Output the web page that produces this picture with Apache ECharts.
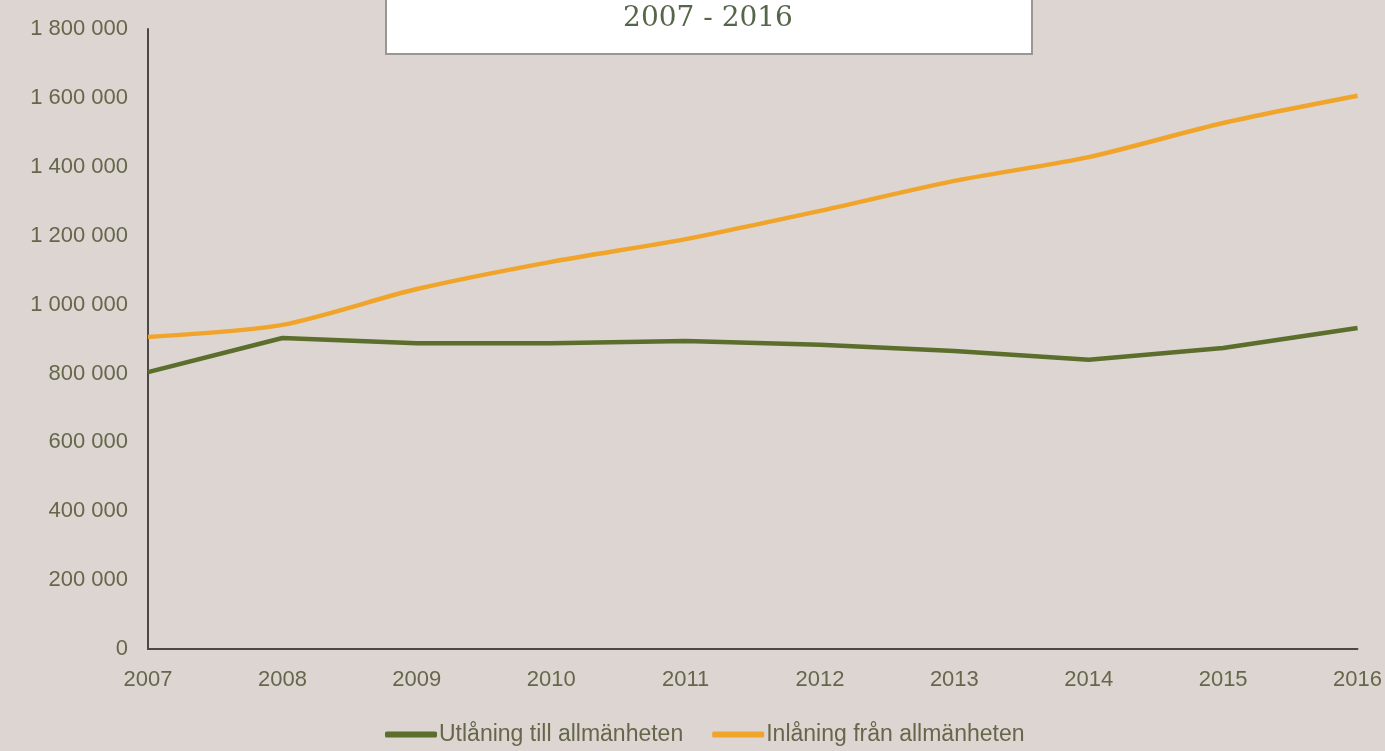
<!DOCTYPE html>
<html>
<head>
<meta charset="utf-8">
<script src="https://cdn.jsdelivr.net/npm/echarts@6/dist/echarts.min.js"></script>
<style>
html,body{margin:0;padding:0;background:#dcd5d2;}
#c{width:1385px;height:751px;}
</style>
</head>
<body>
<div id="c"></div>
<script>
const years = ['2007','2008','2009','2010','2011','2012','2013','2014','2015','2016'];
const utlaning = [804000, 903000, 888000, 888000, 894000, 883000, 865000, 840000, 874000, 932000];
const inlaning = [906000, 941000, 1045000, 1124000, 1190000, 1272000, 1359000, 1428000, 1527000, 1606000];
const seriesNames = ['Utlåning till allmänheten', 'Inlåning från allmänheten'];
const subtitle = '2007 - 2016';

const chart = echarts.init(document.getElementById('c'));
const labelColor = '#66674a';
chart.setOption({
  backgroundColor: '#dcd5d2',
  animation: false,
  grid: { left: 148, right: 27, top: 29, bottom: 102 },
  xAxis: {
    type: 'category',
    data: years,
    boundaryGap: false,
    axisLine: { lineStyle: { color: '#4d4747', width: 2 } },
    axisTick: { show: false },
    axisLabel: { color: labelColor, fontFamily: 'Liberation Sans, Arial', fontSize: 22, margin: 20 }
  },
  yAxis: {
    type: 'value',
    min: 0, max: 1800000, interval: 200000,
    splitLine: { show: false },
    axisLine: { show: true, lineStyle: { color: '#4d4747', width: 2 } },
    axisTick: { show: false },
    axisLabel: {
      color: labelColor, fontFamily: 'Liberation Sans, Arial', fontSize: 22, margin: 20,
      formatter: v => String(v).replace(/\B(?=(\d{3})+(?!\d))/g, ' ')
    }
  },
  legend: {
    top: 718,
    left: 380,
    itemWidth: 52, itemHeight: 6, itemGap: 29,
    icon: 'roundRect',
    textStyle: { color: labelColor, fontFamily: 'Liberation Sans, Arial', fontSize: 23, padding: [0,0,0,-3] },
    data: seriesNames
  },
  series: [
    { name: seriesNames[0], type: 'line', data: utlaning, symbol: 'none',
      lineStyle: { color: '#5b6e2b', width: 4.5 }, itemStyle: { color: '#5b6e2b' } },
    { name: seriesNames[1], type: 'line', data: inlaning, symbol: 'none', smooth: 0.25,
      lineStyle: { color: '#f0a52a', width: 4.5 }, itemStyle: { color: '#f0a52a' } }
  ],
  graphic: [
    { type: 'rect', shape: { x: 386, y: -10, width: 646, height: 64 },
      style: { fill: '#ffffff', stroke: '#9b9594', lineWidth: 2 } },
    { type: 'text', x: 708, y: 19,
      style: { text: subtitle, fill: '#56664a', align: 'center', verticalAlign: 'middle',
               font: '28px "DejaVu Serif", "Liberation Serif", serif' } }
  ]
});
</script>
</body>
</html>
